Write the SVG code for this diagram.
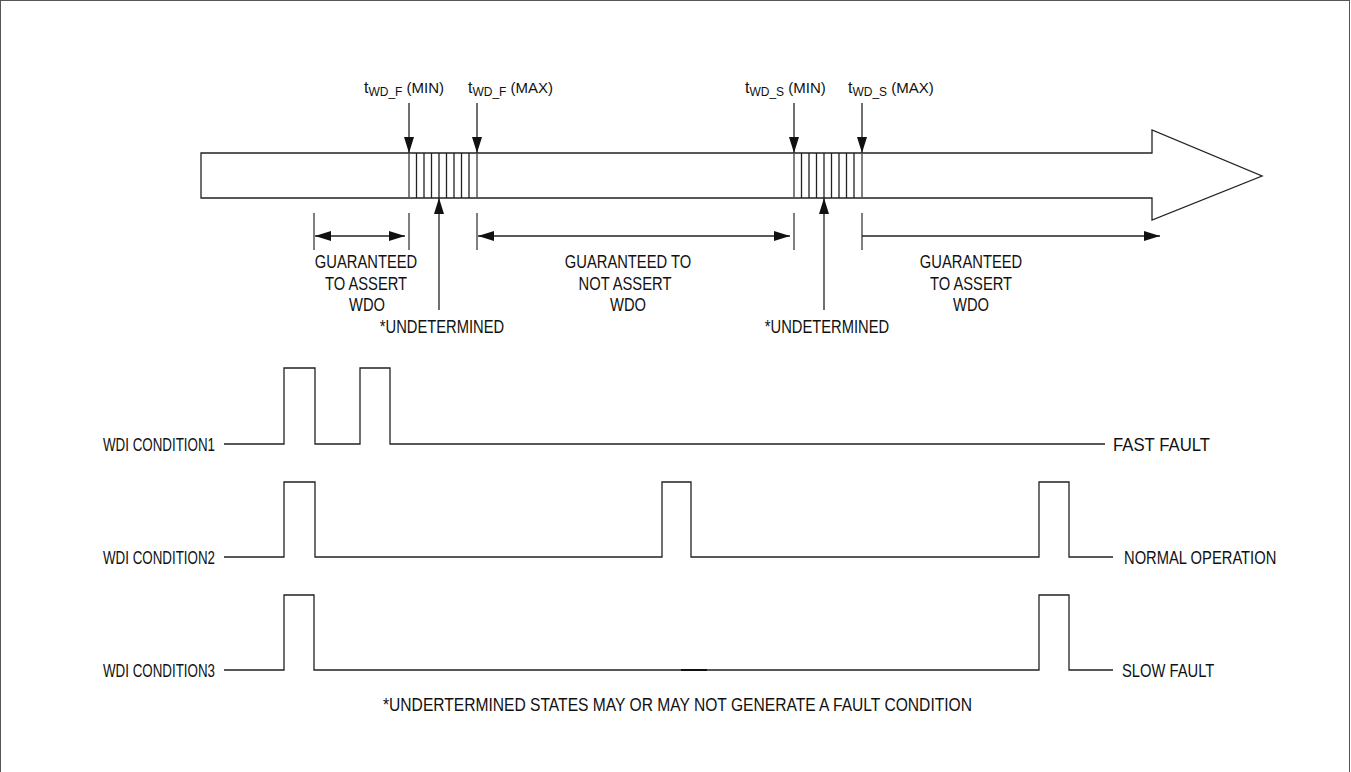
<svg xmlns="http://www.w3.org/2000/svg" width="1351" height="772" viewBox="0 0 1351 772">
<style>
.ln{fill:none;stroke:#222;stroke-width:1.3}
.gl{fill:none;stroke:#555;stroke-width:1.5}
.t{font-family:"Liberation Sans",Arial,sans-serif;font-size:18px;fill:#111}
.s{font-family:"Liberation Sans",Arial,sans-serif;font-size:15px;fill:#111}
.sub{font-size:12px}
.m{text-anchor:middle}
.e{text-anchor:end}
</style>
<defs>
<marker id="ah" viewBox="0 0 16 10" refX="16" refY="5" markerWidth="16" markerHeight="10" markerUnits="userSpaceOnUse" orient="auto-start-reverse">
<path d="M0,0 L16,5 L0,10 z" fill="#111"/>
</marker>
</defs>
<rect x="0.5" y="0.5" width="1349" height="800" fill="#fff" stroke="#555" stroke-width="1"/>

<g id="timeline">
<polygon class="ln" points="201,153 1152,153 1152,130 1262,176 1152,220 1152,198 201,198"/>
</g>

<g id="hatch-fast">
<path class="gl" d="M409,153V198M477,153V198"/>
<path class="ln" d="M416.5,153V198M424,153V198M431.5,153V198M439,153V198M446.5,153V198M454,153V198M461.5,153V198M469,153V198"/>
</g>
<g id="hatch-slow">
<path class="gl" d="M794,153V198M862,153V198"/>
<path class="ln" d="M801.5,153V198M809,153V198M816.5,153V198M824,153V198M831.5,153V198M839,153V198M846.5,153V198M854,153V198"/>
</g>

<g id="labels-top">
<text class="s" x="364" y="93"><tspan font-size="16">t</tspan><tspan class="sub" dy="2.5">WD_F</tspan><tspan dy="-2.5"> (MIN)</tspan></text>
<text class="s" x="468" y="93"><tspan font-size="16">t</tspan><tspan class="sub" dy="2.5">WD_F</tspan><tspan dy="-2.5"> (MAX)</tspan></text>
<text class="s" x="745" y="93"><tspan font-size="16">t</tspan><tspan class="sub" dy="2.5">WD_S</tspan><tspan dy="-2.5"> (MIN)</tspan></text>
<text class="s" x="848" y="93"><tspan font-size="16">t</tspan><tspan class="sub" dy="2.5">WD_S</tspan><tspan dy="-2.5"> (MAX)</tspan></text>
</g>

<g id="connectors">
<line class="ln" x1="409" y1="103" x2="409" y2="153" marker-end="url(#ah)"/>
<line class="ln" x1="477" y1="103" x2="477" y2="153" marker-end="url(#ah)"/>
<line class="ln" x1="794" y1="103" x2="794" y2="153" marker-end="url(#ah)"/>
<line class="ln" x1="862" y1="103" x2="862" y2="153" marker-end="url(#ah)"/>
<line class="ln" x1="439" y1="310" x2="439" y2="198" marker-end="url(#ah)"/>
<line class="ln" x1="824" y1="310" x2="824" y2="198" marker-end="url(#ah)"/>
<path class="gl" d="M314,213V250M409,213V250M477,213V250M794,213V250M862,213V250"/>
<line class="ln" x1="315" y1="236" x2="405" y2="236" marker-start="url(#ah)" marker-end="url(#ah)"/>
<line class="ln" x1="478" y1="236" x2="790" y2="236" marker-start="url(#ah)" marker-end="url(#ah)"/>
<line class="ln" x1="862" y1="236" x2="1160" y2="236" marker-end="url(#ah)"/>
</g>

<g id="region-labels">
<text class="t m" transform="translate(366,268) scale(.82,1)">GUARANTEED</text>
<text class="t m" transform="translate(366,289.5) scale(.82,1)">TO ASSERT</text>
<text class="t m" transform="translate(367,311) scale(.82,1)">WDO</text>
<text class="t m" transform="translate(442,333) scale(.82,1)">*UNDETERMINED</text>
<text class="t m" transform="translate(628,268) scale(.82,1)">GUARANTEED TO</text>
<text class="t m" transform="translate(625,289.5) scale(.82,1)">NOT ASSERT</text>
<text class="t m" transform="translate(628,311) scale(.82,1)">WDO</text>
<text class="t m" transform="translate(827,333) scale(.82,1)">*UNDETERMINED</text>
<text class="t m" transform="translate(971,268) scale(.82,1)">GUARANTEED</text>
<text class="t m" transform="translate(971,289.5) scale(.82,1)">TO ASSERT</text>
<text class="t m" transform="translate(971,311) scale(.82,1)">WDO</text>
</g>

<g id="wdi1">
<text class="t" x="103" y="450.5" textLength="112" lengthAdjust="spacingAndGlyphs">WDI CONDITION1</text>
<path class="ln" d="M224,444H284V368H315V444H360V368H390V444H1105"/>
<text class="t" x="1113" y="450.5" textLength="97" lengthAdjust="spacingAndGlyphs">FAST FAULT</text>
</g>
<g id="wdi2">
<text class="t" x="103" y="563.5" textLength="112" lengthAdjust="spacingAndGlyphs">WDI CONDITION2</text>
<path class="ln" d="M224,557H284V482H315V557H662V482H691V557H1039V482H1069V557H1113"/>
<text class="t" transform="translate(1124,563.5) scale(.82,1)">NORMAL OPERATION</text>
</g>
<g id="wdi3">
<text class="t" x="103" y="676.5" textLength="112" lengthAdjust="spacingAndGlyphs">WDI CONDITION3</text>
<path class="ln" d="M224,670H284V595H314V670H1039V595H1069V670H1113"/>
<line x1="681" y1="670" x2="707" y2="670" stroke="#111" stroke-width="2"/>
<text class="t" transform="translate(1122,676.5) scale(.82,1)">SLOW FAULT</text>
</g>

<text id="footnote" class="t" x="383" y="710.5" textLength="589" lengthAdjust="spacingAndGlyphs">*UNDERTERMINED STATES MAY OR MAY NOT GENERATE A FAULT CONDITION</text>
</svg>
